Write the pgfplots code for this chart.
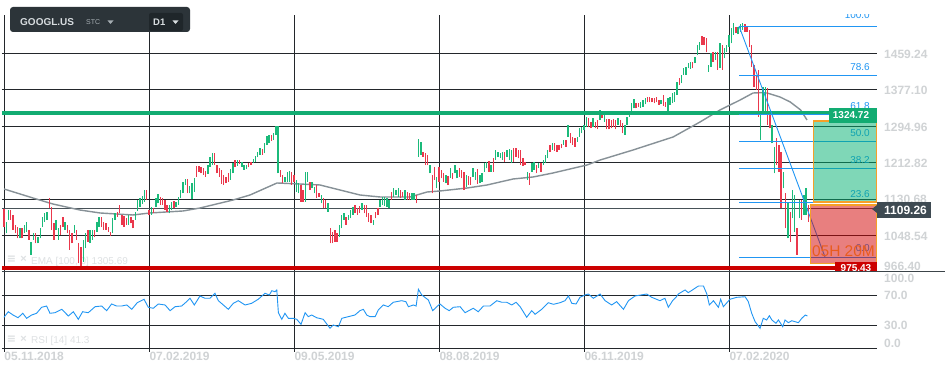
\documentclass[border=0pt]{standalone}
\usepackage{fontspec}
\setmainfont{Liberation Sans}
\newfontfamily\dejavu{DejaVu Sans}
\usepackage{pgfplots}
\usepackage{pgfplotstable}
\pgfplotsset{compat=1.18}
\definecolor{gridc}{RGB}{35,39,43}
\definecolor{sepc}{RGB}{60,68,73}
\definecolor{lblg}{RGB}{208,211,213}
\definecolor{cup}{RGB}{27,186,122}
\definecolor{cdn}{RGB}{234,56,76}
\definecolor{emac}{RGB}{135,145,151}
\definecolor{blu}{RGB}{33,150,243}
\definecolor{tpg}{RGB}{18,172,114}
\definecolor{slr}{RGB}{204,0,0}
\definecolor{curl}{RGB}{72,82,88}
\definecolor{curbox}{RGB}{62,74,82}
\definecolor{tb}{RGB}{44,52,57}
\definecolor{tbd}{RGB}{31,38,42}
\definecolor{tbtext}{RGB}{215,220,223}
\definecolor{tbgrey}{RGB}{165,173,178}
\definecolor{boxg}{RGB}{0,176,112}
\definecolor{boxr}{RGB}{210,0,0}
\definecolor{orng}{RGB}{245,160,40}
\definecolor{txto}{RGB}{232,92,30}
\definecolor{faint}{RGB}{222,225,227}

\pgfplotstableread{
i lo hi
1 1053.5 1079.75
2 1083.5 1106
7 1042 1064.75
9 1053.5 1072
10 1057 1079.75
12 1004.75 1034.75
13 1038.5 1053.5
15 1031 1046
16 1042 1064.75
17 1068.5 1091
18 1079.75 1098.5
19 1083.5 1102.25
23 1061 1083.5
24 1038.5 1064.75
27 1061 1079.75
31 1053.5 1072
35 989.75 1038.5
36 1019.75 1053.5
38 1031 1061
39 1038.5 1061
41 1057 1079.75
42 1068.5 1089.5
48 1053.5 1087.25
49 1083.5 1098.5
55 1072.25 1094.75
58 1083.5 1102.25
59 1104.5 1128.5
60 1113.5 1132.25
61 1119.5 1137.5
62 1124.75 1151
65 1094.75 1113.5
67 1113.5 1132.25
68 1121 1142
73 1098.5 1117.25
74 1106 1124.75
76 1113.5 1124.75
77 1117.25 1134.5
78 1132.25 1151
79 1143.5 1169.75
80 1162.25 1175
82 1143.5 1160
83 1130 1166
84 1147.25 1177.25
90 1187 1207.25
91 1203.5 1226
92 1207.25 1235
100 1173.5 1197.5
101 1188.5 1211
103 1205 1218.5
105 1203.5 1214.75
106 1196 1207.25
107 1197.5 1207.25
110 1211 1220
111 1214.75 1227.5
112 1224.5 1237.25
113 1229.75 1244.75
115 1233.5 1256
116 1252.25 1272.5
117 1256 1274.75
119 1263.5 1278.5
120 1274.75 1295
121 1188.5 1295
124 1169.75 1181
125 1169.75 1192.25
126 1169.75 1193.75
129 1147.25 1173.5
130 1143.5 1166
133 1124.75 1192.25
134 1169.75 1192.25
136 1154.75 1169.75
137 1143.5 1158.5
140 1121 1140
143 1102.25 1121
148 1046 1072.25
149 1064.75 1094.75
150 1083.5 1098.5
152 1083.5 1094.75
153 1087.25 1106
154 1094.75 1113.5
158 1106 1121
163 1072.25 1083.5
166 1113.5 1128.5
167 1117.25 1136
168 1115 1134.5
169 1113.5 1132.25
170 1109.75 1128.5
172 1136 1154.75
173 1139.75 1151
174 1136 1154.75
177 1128.5 1151
180 1128.5 1143.5
181 1128.5 1143.5
183 1226 1265
184 1229.75 1259.75
188 1188.5 1207.25
191 1154.75 1181
195 1166 1184.75
197 1177.25 1199.75
199 1188.5 1207.25
200 1177.25 1196
204 1158.5 1184.75
207 1181 1199.75
208 1173.5 1192.25
210 1166 1184.75
211 1169.75 1188.5
212 1192.25 1211
213 1199.75 1214.75
215 1192.25 1207.25
217 1218.5 1241
218 1226 1237.25
219 1222.25 1235
220 1218.5 1237.25
222 1226 1241
223 1218.5 1242.5
224 1211 1241
231 1173.5 1192.25
233 1192.25 1211
234 1196 1214.75
236 1199.75 1211
238 1207.25 1218.5
239 1211 1229.75
240 1222.25 1241
242 1241 1257.5
247 1252.25 1263.5
249 1271 1297.25
253 1259.75 1271
254 1271 1289.75
255 1278.5 1293.5
256 1286 1297.25
257 1293.5 1316
260 1293.5 1312.25
263 1308.5 1331
265 1304.75 1323.5
271 1297.25 1312.25
274 1274.75 1297.25
275 1297.25 1316
276 1316 1327.25
277 1329.5 1346
278 1334.75 1355
281 1336.25 1349.75
282 1338.5 1353.5
283 1343.75 1357.25
290 1343.75 1353.5
293 1328.75 1357.25
294 1342.25 1361
295 1346 1368.5
296 1349.75 1372.25
297 1364.75 1394.75
299 1391 1409.75
300 1409.75 1424.75
301 1409.75 1428.5
302 1424.75 1436
303 1423.25 1439.75
305 1436 1451
306 1454.75 1477.25
307 1466 1484.75
311 1417.25 1432.25
312 1428.5 1458.5
314 1443.5 1462.25
316 1424.75 1481
318 1447.25 1469.75
319 1462.25 1477.25
320 1473.5 1499.75
321 1481 1514.75
322 1499.75 1526
324 1501.25 1518.5
325 1507.25 1523.75
326 1511 1526
334 1263.5 1319.75
335 1327.25 1383.5
336 1319.75 1383.5
339 1256 1297.25
340 1188.5 1248.5
344 1154.75 1192.25
346 1042.25 1124.75
348 1087.25 1151
349 1057.25 1139.75
351 1087.25 1128.5
353 1094.75 1139.75
354 1094.75 1154.75
}\upc

\pgfplotstableread{
i lo hi
0 1068.5 1107.5
3 1083.5 1106
4 1061 1094.75
5 1053.5 1072
6 1042 1068.5
8 1042 1064.75
11 1038.5 1061
14 1031 1053.5
20 1109.75 1132.25
21 1061 1113.5
22 1038.5 1076
25 1049.75 1072
26 1068.5 1089.5
28 1053.5 1072
29 1016 1061
30 1031 1053.5
32 1038.5 1061
33 986 1031
34 978.5 1023.5
37 1034.75 1061
40 1046 1061
43 1068.5 1089.5
44 1061 1079.75
45 1061 1076
46 1057.25 1068.5
47 1047.5 1057.25
50 1091 1102.25
51 1100 1117.25
52 1072.25 1094.75
53 1068.5 1092.5
54 1072.25 1087.25
56 1076 1091
57 1064.75 1083.5
63 1128.5 1151
64 1094.75 1106
66 1098.5 1109.75
69 1117.25 1136
70 1117.25 1132.25
71 1106 1128.5
72 1102.25 1117.25
75 1109.75 1127
81 1143.5 1175
85 1181 1205
86 1192.25 1205
87 1188.5 1203.5
88 1184.75 1199.75
89 1181 1194.5
93 1207.25 1233.5
94 1188.5 1207.25
95 1181 1199.75
96 1164.5 1196
97 1162.25 1184.75
98 1166 1181
99 1169.75 1188.5
102 1203.5 1218.5
104 1209.5 1218.5
108 1202 1212.5
109 1207.25 1214.75
114 1229.75 1242.5
118 1262 1274.75
122 1181 1196
123 1166 1184.75
127 1162.25 1192.25
128 1169.75 1184.75
131 1124.75 1162.25
132 1124.75 1151
135 1151 1169.75
138 1132.25 1162.25
139 1136 1143.5
141 1109.75 1132.25
142 1109.75 1128.5
144 1031 1064.75
145 1031 1057.25
146 1034.75 1061
147 1034.75 1053.5
151 1072.25 1091
155 1098.5 1117.25
156 1094.75 1109.75
157 1100 1115
159 1098.5 1117.25
160 1091 1117.25
161 1079.75 1098.5
162 1076 1094.75
164 1087.25 1102.25
165 1094.75 1109.75
171 1128.5 1147.25
175 1132.25 1151
176 1136 1147.25
178 1128.5 1147.25
179 1128.5 1143.5
182 1121 1139.75
185 1226 1237.25
186 1207.25 1233.5
187 1207.25 1229.75
189 1143.5 1184.75
190 1173.5 1202
192 1169.75 1203.5
193 1177.25 1196
194 1169.75 1188.5
196 1162.25 1182.5
198 1175 1190
201 1181 1199.75
202 1177.25 1196
203 1151 1192.25
205 1162.25 1182.5
206 1162.25 1181
209 1164.5 1197.5
214 1192.25 1217
216 1192.25 1222.25
221 1214.75 1237.25
225 1214.75 1244.75
226 1226 1244.75
227 1222.25 1241
228 1207.25 1241
229 1205 1222.25
230 1207.25 1214.75
232 1162.25 1188.5
235 1188.5 1207.25
237 1192.25 1212.5
241 1237.25 1252.25
243 1239.5 1256
244 1237.25 1252.25
245 1241 1252.25
246 1244.75 1254.5
248 1248.5 1263.5
250 1256 1280
251 1252.25 1271
252 1248.5 1267.25
258 1293.5 1312.25
259 1289.75 1304.75
261 1289.75 1304.75
262 1287.5 1308.5
264 1312.25 1327.25
266 1287.5 1310
267 1287.5 1310
268 1289.75 1308.5
269 1293.5 1310
270 1287.5 1308.5
272 1293.5 1308.5
273 1278.5 1301
279 1334.75 1346
280 1338.5 1347.5
284 1348.25 1361
285 1348.25 1361
286 1348.25 1358.75
287 1346 1358.75
288 1348.25 1361
289 1342.25 1353.5
291 1340.75 1364.75
292 1338.5 1349.75
298 1387.25 1402.25
304 1424.75 1439.75
308 1477.25 1498.25
309 1477.25 1496
310 1460.75 1492.25
313 1439.75 1462.25
315 1421 1462.25
317 1421 1477.25
323 1503.5 1518.5
327 1507.25 1523.75
328 1507.25 1518.5
329 1473.5 1511
330 1428.5 1477.25
331 1383.5 1432.25
332 1376 1409.75
333 1316 1421
337 1297.25 1379.75
338 1289.75 1319.75
341 1207.25 1267.25
342 1192.25 1252.25
343 1109.75 1237.25
345 1064.75 1143.5
347 1034.75 1102.25
350 1004.75 1064.75
352 1083.5 1128.5
355 1079.75 1117.25
}\dnc

\pgfplotstableread{
i v
0 1153.2
12.8 1132.9
21.6 1119.4
33.5 1105.9
42.4 1099.2
56.9 1094.7
64.4 1099.2
79 1103.7
86.5 1110.4
101.1 1128.4
108.6 1139.7
120.5 1166.7
130.6 1164.4
139.5 1162.2
148.3 1150.9
157.1 1139.7
166 1135.2
179.2 1135.2
186.7 1146.4
192.4 1148.7
204.4 1155.4
213.2 1162.2
224.7 1175.7
233.5 1180.2
242.3 1189.2
257.3 1207.2
263.1 1218.4
277.6 1240.9
295.3 1270.2
307.2 1304
316 1331
324.9 1353.5
330.6 1369.2
333.7 1369.9
336.8 1369.2
342.5 1360.2
347 1349
351.6 1331
354.4 1308.5
}\ema

\pgfplotstableread{
i r
0 40.3
1.9 47.7
4.0 43.3
6.2 39.7
8.3 45.6
10.0 38.9
12.2 43.3
14.4 45.6
16.6 53.6
18.8 55.3
20.3 45.6
22.5 46.4
25.5 50.9
28.4 42.0
30.6 47.7
32.8 37.6
34.7 47.7
37.2 46.4
40.2 54.4
43.1 55.3
45.3 49.1
47.5 58.0
49.7 55.3
51.9 55.3
54.2 56.7
56.4 50.9
58.8 59.7
61.8 64.3
63.7 53.6
65.9 52.3
68.1 58.0
71.1 56.7
73.3 49.1
75.5 54.4
78.4 55.3
80.6 61.1
82.1 65.6
84.0 56.7
86.5 68.7
88.7 65.6
90.9 65.6
93.1 72.3
94.6 62.4
96.8 56.7
99.0 50.9
101.2 58.9
103.4 62.4
106.4 56.7
109.3 58.9
112.2 64.3
115.2 72.3
117.1 70.0
118.2 75.7
119.6 74.4
120.4 76.7
121.1 46.4
122.6 37.6
124.0 45.6
125.5 38.9
127.7 38.9
129.2 37.6
131.1 30.9
132.9 46.4
134.3 41.1
135.8 43.3
138.0 39.7
140.9 37.6
143.9 25.6
145.3 30.0
147.6 27.7
149.1 38.9
152.0 41.1
154.9 43.3
157.1 49.1
158.6 50.9
160.1 43.3
161.5 41.1
163.8 41.1
165.2 50.0
167.4 56.7
169.6 54.4
171.8 60.3
175.5 62.4
177.4 61.1
178.5 54.4
180.7 56.7
181.9 55.3
182.9 77.6
184.4 70.0
187.3 63.3
189.2 49.1
191.0 54.4
192.4 58.0
194.7 52.3
196.5 49.1
198.3 53.6
201.3 54.4
203.5 46.4
205.7 50.0
207.1 52.3
209.3 47.7
211.6 55.3
214.5 55.3
217.5 62.4
219.7 60.3
221.9 60.3
224.1 56.7
226.0 60.3
227.8 54.4
230.7 40.3
232.9 49.1
234.4 44.3
237.3 50.9
240.2 59.7
242.5 57.6
245.4 59.7
247.6 62.4
249.1 68.7
250.6 58.9
252.5 58.0
254.2 66.9
256.4 70.0
257.9 71.3
260.1 65.6
263.1 71.3
265.3 62.4
268.2 56.7
270.4 61.1
273.4 50.9
275.6 62.4
278.5 68.7
283.7 71.3
285.9 66.9
289.5 62.4
291.7 65.6
293.2 53.6
295.1 62.4
296.6 66.9
297.6 71.3
300.6 76.7
302.0 73.1
306.5 82.0
308.7 82.0
310.2 71.3
311.3 56.7
313.1 62.4
315.3 53.6
316.3 64.3
317.5 54.4
320.4 64.3
323.4 66.9
327.1 67.7
328.5 61.1
330.0 45.6
331.5 34.4
333.7 25.6
335.1 38.9
336.6 36.7
337.8 42.4
338.9 36.7
340.7 32.3
341.8 36.7
343.7 27.7
344.7 36.7
346.2 33.1
347.7 35.7
350.6 33.1
352.1 38.9
353.6 43.3
354.6 42.0
}\rsi

\newcommand{\fs}[1]{\fontsize{#1}{#1}\selectfont}

\begin{document}
\begin{tikzpicture}[x=1pt,y=1pt]
\path[use as bounding box, fill=white] (0,0) rectangle (945,374);

% ---------------- price panel ----------------
\begin{axis}[
  at={(2pt,102pt)}, anchor=south west, scale only axis,
  width=875pt, height=257pt,
  xmin=-0.88, xmax=385.3, ymin=966.40, ymax=1544.75,
  axis line style={draw=none}, tick style={draw=none},
  xtick={0,64,128,192,256,320}, xticklabels={},
  ytick={1048.54,1130.68,1212.82,1294.96,1377.10,1459.24}, yticklabels={},
  xmajorgrids, ymajorgrids,
  major grid style={draw=gridc, line width=0.9pt},
]
\addplot[curl, line width=0.8pt] coordinates {(-0.88,1109.26) (385.3,1109.26)};
\node[anchor=west, inner sep=0pt, text=faint, font=\fs{10}] at (axis cs:11.9,990) {EMA [100, 0] 1305.69};
\node[inner sep=0pt, text=faint, font=\dejavu\bfseries\fs{11}] at (axis cs:3.3,994.5) {≡};
\node[inner sep=0pt, text=faint, font=\bfseries\fs{11}] at (axis cs:8.6,994.5) {×};
\addplot[emac, line width=1.4pt] table[x=i,y=v] {\ema};
\addplot[draw=none, no marks, forget plot,
  error bars/.cd, y dir=plus, y explicit, error mark=none,
  error bar style={draw=cup, line width=1.4pt}]
  table[x=i, y=lo, y error expr=\thisrow{hi}-\thisrow{lo}] {\upc};
\addplot[draw=none, no marks, forget plot,
  error bars/.cd, y dir=plus, y explicit, error mark=none,
  error bar style={draw=cdn, line width=1.4pt}]
  table[x=i, y=lo, y error expr=\thisrow{hi}-\thisrow{lo}] {\dnc};
\addplot[tpg, line width=3.5pt] coordinates {(-0.88,1324.72) (385.3,1324.72)};
\addplot[slr, line width=3.5pt] coordinates {(-0.88,975.43) (385.3,975.43)};
% Fibonacci retracement
\addplot[blu, line width=0.9pt] coordinates {(324.4,1520.0) (385.3,1520.0)};
\addplot[blu, line width=0.9pt] coordinates {(324.4,1408.6) (385.3,1408.6)};
\addplot[blu, line width=0.9pt] coordinates {(324.4,1321.2) (385.3,1321.2)};
\addplot[blu, line width=0.9pt] coordinates {(324.4,1259.75) (385.3,1259.75)};
\addplot[blu, line width=0.9pt] coordinates {(324.4,1198.3) (385.3,1198.3)};
\addplot[blu, line width=0.9pt] coordinates {(324.4,1122.3) (385.3,1122.3)};
\addplot[blu, line width=0.9pt] coordinates {(324.4,999.5) (385.3,999.5)};
\addplot[blu, line width=0.9pt] coordinates {(324.4,1520.0) (362.4,999.5)};
\node[anchor=south east, inner sep=0pt, yshift=7pt, text=blu, font=\fs{10}] at (axis cs:382.2,1520.0) {100.0};
\node[anchor=south east, inner sep=0pt, yshift=5pt, text=blu, font=\fs{10}] at (axis cs:382.2,1408.6) {78.6};
\node[anchor=south east, inner sep=0pt, yshift=5pt, text=blu, font=\fs{10}] at (axis cs:382.2,1321.2) {61.8};
\node[anchor=south east, inner sep=0pt, yshift=5pt, text=blu, font=\fs{10}] at (axis cs:382.2,1259.75) {50.0};
\node[anchor=south east, inner sep=0pt, yshift=5pt, text=blu, font=\fs{10}] at (axis cs:382.2,1198.3) {38.2};
\node[anchor=south east, inner sep=0pt, yshift=5pt, text=blu, font=\fs{10}] at (axis cs:382.2,1122.3) {23.6};
\node[anchor=south east, inner sep=0pt, yshift=5pt, text=blu, font=\fs{10}] at (axis cs:382.2,999.5) {0.0};
% position boxes
\addplot[fill=boxg, fill opacity=0.5, draw=orng, line width=1.2pt]
  coordinates {(357.3,1123.9) (384.9,1123.9) (384.9,1306.2) (357.3,1306.2)} --cycle;
\addplot[fill=boxr, fill opacity=0.5, draw=orng, line width=1.2pt]
  coordinates {(355.8,986.0) (384.9,986.0) (384.9,1117.2) (355.8,1117.2)} --cycle;
\node[inner sep=0pt, text=txto, font=\fs{15.5}] at (axis cs:370.5,1012.5) {05H 20M};
\end{axis}

% ---------------- RSI panel ----------------
\begin{axis}[
  at={(2pt,26.5pt)}, anchor=south west, scale only axis,
  width=875pt, height=75pt,
  xmin=-0.88, xmax=385.3, ymin=0, ymax=100,
  axis line style={draw=none},
  xtick={0,64,128,192,256,320}, xticklabels={},
  ytick={30,70}, yticklabels={},
  xmajorgrids, ymajorgrids,
  major grid style={draw=gridc, line width=0.9pt},
  ytick style={draw=none},
  xtick style={draw=gridc, line width=0.9pt},
  tick align=outside, major tick length=4.5pt, xtick pos=left,
]
\addplot[blu, line width=0.9pt] table[x=i,y=r] {\rsi};
\node[anchor=west, inner sep=0pt, text=faint, font=\fs{10}] at (axis cs:11.9,8.7) {RSI [14] 41.3};
\node[inner sep=0pt, text=faint, font=\dejavu\bfseries\fs{11}] at (axis cs:3.3,10.7) {≡};
\node[inner sep=0pt, text=faint, font=\bfseries\fs{11}] at (axis cs:8.6,10.7) {×};
\end{axis}

% bottom axis line
\draw[gridc, line width=0.9pt] (2,26) -- (877,26);

% date labels
\foreach \px/\lab in {4.3/05.11.2018, 149.3/07.02.2019, 294.3/09.05.2019, 439.3/08.08.2019, 584.3/06.11.2019, 729.3/07.02.2020}
  \node[anchor=north west, inner sep=0pt, text=lblg, font=\bfseries\fs{12}] at (\px,22) {\lab};

% price scale labels
\foreach \yy/\lab in {320/1459.24, 283.5/1377.10, 247/1294.96, 210.5/1212.82, 175/1130.68, 138/1048.54, 108/966.40, 96/100.0, 79/70.0, 49/30.0, 31/0.0}
  \node[anchor=west, inner sep=0pt, text=lblg, font=\bfseries\fs{12}] at (884,\yy) {\lab};

% 1324.72 label
\fill[tpg] (829,251.3) rectangle (877,266.3);
\node[inner sep=0pt, text=white, font=\bfseries\fs{10}] at (851,258.8) {1324.72};

% 975.43 label (clipped by panel border)
\begin{scope}
\clip (0,102) rectangle (945,374);
\fill[slr] (835,102) rectangle (877,111.5);
\node[inner sep=0pt, text=white, font=\bfseries\fs{10}] at (856,106) {975.43};
\end{scope}

% panel separator
\draw[sepc, line width=1pt] (2,102) -- (945,102);

% current price label
\fill[curbox] (877,155.7) rectangle (931,172.3);
\fill[curbox] (872,165) -- (877,169) -- (877,161) -- cycle;
\node[anchor=west, inner sep=0pt, text=white, font=\bfseries\fs{12}] at (884,164) {1109.26};

% toolbar
\fill[tb, rounded corners=3pt] (10,342) rectangle (190,367);
\fill[tbd, rounded corners=2pt] (149,343) rectangle (183,361);
\node[anchor=west, inner sep=0pt, text=tbtext, font=\bfseries\fs{10}] at (20,351.5) {GOOGL.US};
\node[anchor=west, inner sep=0pt, text=tbgrey, font=\fs{7}] at (86,351.5) {STC};
\fill[tbgrey] (107.5,353.5) -- (113.5,353.5) -- (110.5,350) -- cycle;
\node[anchor=west, inner sep=0pt, text=tbtext, font=\bfseries\fs{9.5}] at (153,351.5) {D1};
\fill[tbtext] (172.5,353.5) -- (178.5,353.5) -- (175.5,350) -- cycle;
\end{tikzpicture}
\end{document}
